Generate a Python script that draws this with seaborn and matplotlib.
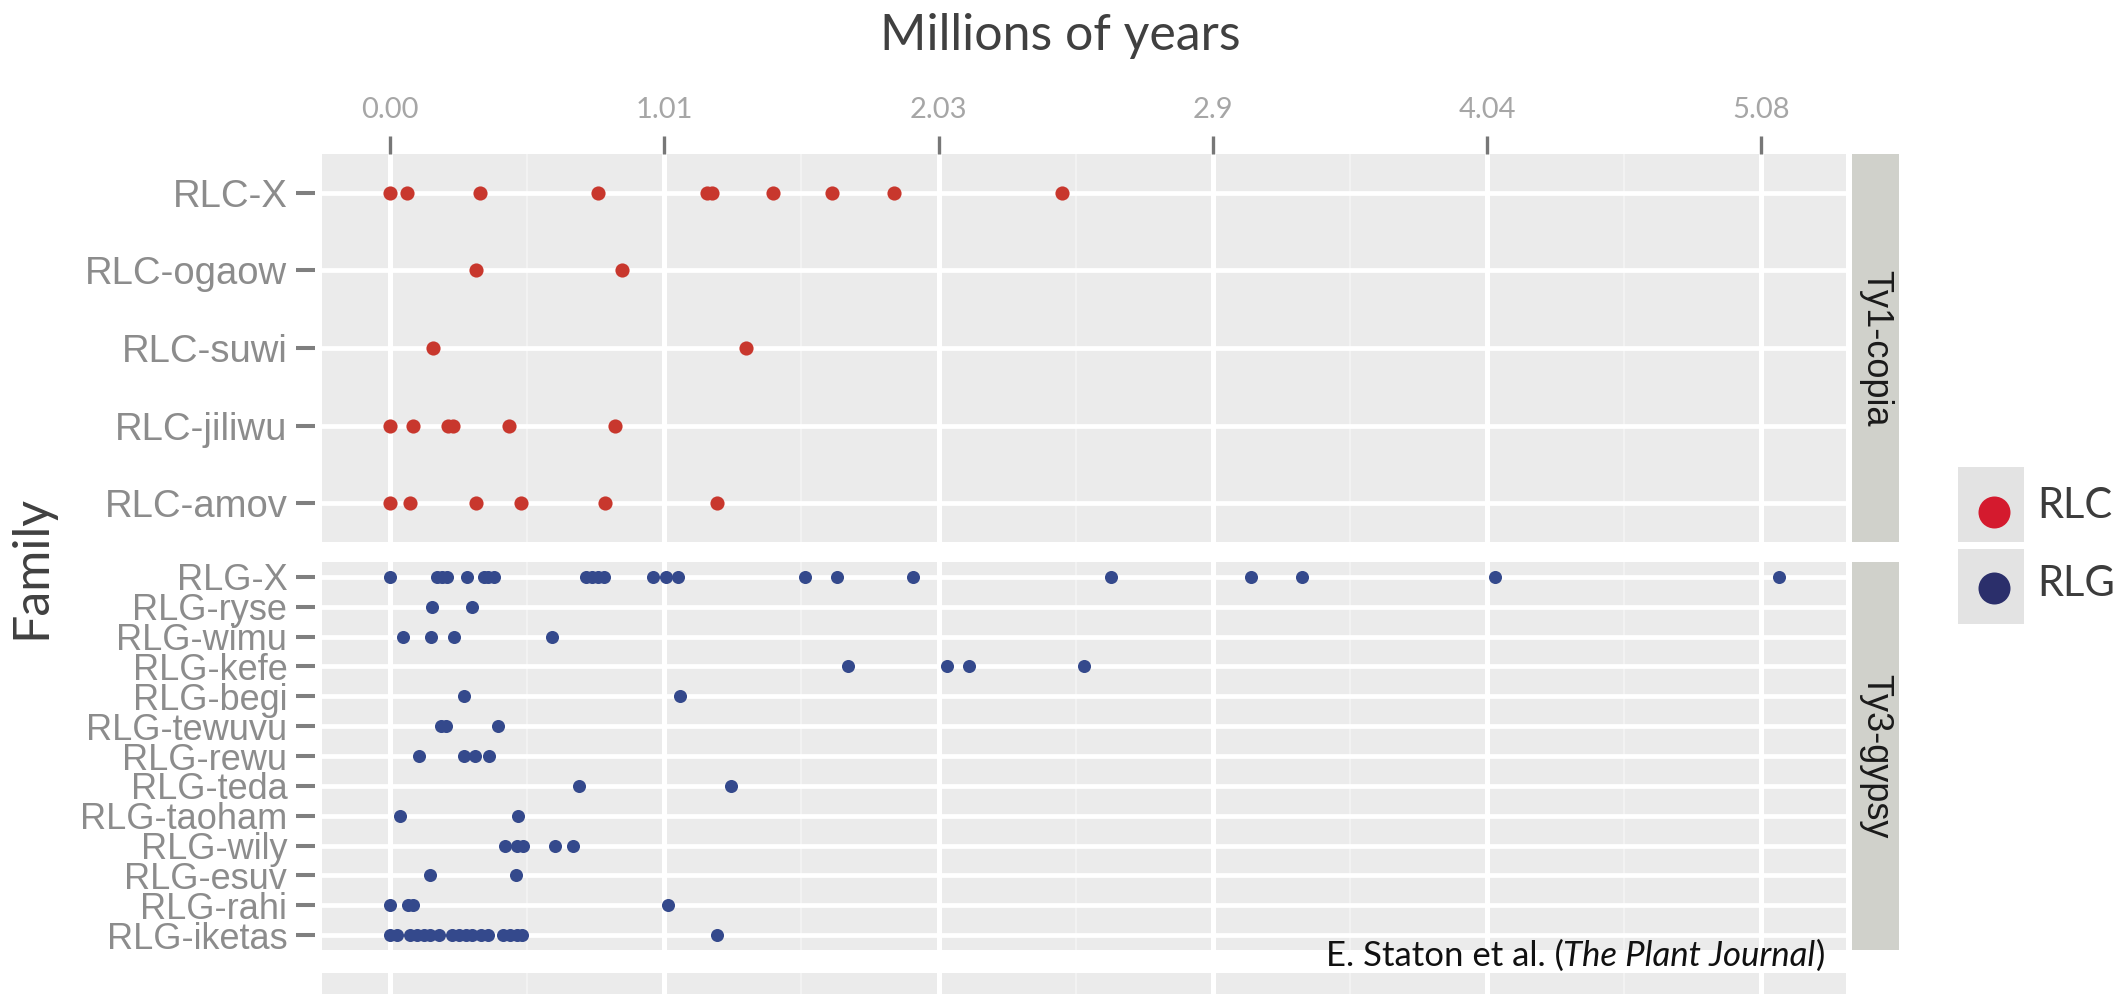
import matplotlib
matplotlib.use("Agg")
import matplotlib.pyplot as plt
from matplotlib.text import Annotation
from matplotlib.ticker import FixedLocator, NullFormatter
import pandas as pd
import seaborn as sns

# ---- insertion ages (millions of years) per LTR family ----
rlc_x = [0.00, 0.062, 0.334, 0.768, 1.172, 1.193, 1.416, 1.636, 1.867, 2.486]
rlc_ogaow = [0.319, 0.859]
rlc_suwi = [0.159, 1.319]
rlc_jiliwu = [0.00, 0.085, 0.215, 0.233, 0.441, 0.833]
rlc_amov = [0.00, 0.074, 0.319, 0.485, 0.796, 1.209]

rlg_x = [0.00, 0.173, 0.191, 0.210, 0.284, 0.346, 0.364, 0.383, 0.726, 0.747,
         0.769, 0.790, 0.975, 1.022, 1.064, 1.537, 1.654, 1.937, 2.670, 3.185,
         3.374, 4.089, 5.141]
rlg_ryse = [0.157, 0.304]
rlg_wimu = [0.049, 0.151, 0.238, 0.601]
rlg_kefe = [1.695, 2.063, 2.144, 2.570]
rlg_begi = [0.274, 1.073]
rlg_tewuvu = [0.190, 0.208, 0.401]
rlg_rewu = [0.106, 0.274, 0.315, 0.365]
rlg_teda = [0.698, 1.261]
rlg_taoham = [0.036, 0.475]
rlg_wily = [0.424, 0.469, 0.491, 0.612, 0.678]
rlg_esuv = [0.146, 0.466]
rlg_rahi = [0.00, 0.068, 0.084, 1.028]
rlg_iketas = [0.00, 0.026, 0.074, 0.100, 0.126, 0.148, 0.181, 0.230, 0.256,
              0.281, 0.304, 0.337, 0.363, 0.419, 0.444, 0.470, 0.489, 1.210]

copia_families = ["RLC-X", "RLC-ogaow", "RLC-suwi", "RLC-jiliwu", "RLC-amov"]
copia_ages = [rlc_x, rlc_ogaow, rlc_suwi, rlc_jiliwu, rlc_amov]
gypsy_families = ["RLG-X", "RLG-ryse", "RLG-wimu", "RLG-kefe", "RLG-begi",
                  "RLG-tewuvu", "RLG-rewu", "RLG-teda", "RLG-taoham",
                  "RLG-wily", "RLG-esuv", "RLG-rahi", "RLG-iketas"]
gypsy_ages = [rlg_x, rlg_ryse, rlg_wimu, rlg_kefe, rlg_begi, rlg_tewuvu,
              rlg_rewu, rlg_teda, rlg_taoham, rlg_wily, rlg_esuv, rlg_rahi,
              rlg_iketas]

tick_labels = ["0.00", "1.01", "2.03", "2.9", "4.04", "5.08"]
tick_step = 1.015
strip_labels = ["Ty1-copia", "Ty3-gypsy"]
legend_labels = ["RLC", "RLG"]


def long_table(families, ages):
    rows = [(fam, a) for fam, vals in zip(families, ages) for a in vals]
    return pd.DataFrame(rows, columns=["family", "age"])


df_copia = long_table(copia_families, copia_ages)
df_gypsy = long_table(gypsy_families, gypsy_ages)

# ---- figure layout in pixels ----
W, H = 2115, 994
fig = plt.figure(figsize=(W / 100, H / 100), dpi=100)
fig.patch.set_facecolor("white")


def rect(x0, y0, x1, y1):
    return [x0 / W, 1 - y1 / H, (x1 - x0) / W, (y1 - y0) / H]


PANEL = "#EBEBEB"
STRIP = "#D0D1CB"
POINT_RED = "#C8372D"
POINT_BLUE = "#34498C"
KEY_RED = "#D41A2E"
KEY_BLUE = "#2B2F6B"

major = [i * tick_step for i in range(len(tick_labels))]
minor = [(i + 0.5) * tick_step for i in range(len(tick_labels) - 1)]
xlim = (-0.252, 5.389)

ax_top = fig.add_axes(rect(322, 154, 1846, 542))
ax_bot = fig.add_axes(rect(322, 562, 1846, 950))
ax_next = fig.add_axes(rect(322, 973, 1846, 1120))

sns.stripplot(data=df_copia, x="age", y="family", order=copia_families,
              jitter=False, color=POINT_RED, size=10.2, linewidth=0, ax=ax_top)
sns.stripplot(data=df_gypsy, x="age", y="family", order=gypsy_families,
              jitter=False, color=POINT_BLUE, size=9.4, linewidth=0, ax=ax_bot)

for ax in (ax_top, ax_bot, ax_next):
    ax.set_facecolor(PANEL)
    ax.set_xlim(*xlim)
    ax.set_axisbelow(True)
    for sp in ax.spines.values():
        sp.set_visible(False)
    ax.xaxis.set_major_locator(FixedLocator(major))
    ax.xaxis.set_minor_locator(FixedLocator(minor))
    ax.xaxis.set_minor_formatter(NullFormatter())
    ax.grid(True, which="major", axis="x", color="white", lw=3.6)
    ax.grid(True, which="minor", axis="x", color="#F3F3F3", lw=1.4)
    ax.set_xlabel("")
    ax.set_ylabel("")

for ax, lsize in ((ax_top, 27.5), (ax_bot, 26)):
    ax.yaxis.grid(True, which="major", color="white", lw=3.4)
    # the y ticks sit a few pixels clear of the panel edge
    ax.spines["left"].set_position(("outward", 5))
    ax.tick_params(axis="y", which="major", length=14, width=2.9,
                   color="#7F7F7F", pad=6, labelsize=lsize,
                   labelcolor="#8C8C8C", labelfontfamily="Liberation Sans")

ax_top.tick_params(axis="x", which="major", top=True, bottom=False,
                   labeltop=True, labelbottom=False, length=13, width=2.4,
                   color="#777777", pad=9, labelsize=21, labelcolor="#A6A6A6",
                   labelfontfamily="Lato")
ax_top.tick_params(axis="x", which="minor", length=0)
ax_top.set_xticklabels(tick_labels)

for ax in (ax_bot, ax_next):
    ax.tick_params(axis="x", which="both", length=0, labelbottom=False,
                   labeltop=False)
ax_next.set_yticks([])

# facet strips
for (y0, y1), label in zip([(154, 542), (562, 950)], strip_labels):
    s = fig.add_axes(rect(1852, y0, 1899, y1))
    s.set_facecolor(STRIP)
    s.set_xticks([])
    s.set_yticks([])
    for sp in s.spines.values():
        sp.set_visible(False)
    s.text(0.5, 0.5, label, rotation=-90, ha="center", va="center",
           fontsize=26, color="#1A1A1A", family="Liberation Sans",
           transform=s.transAxes)

# axis titles
fig.text(1060 / W, 1 - 50 / H, "Millions of years", ha="center",
         va="baseline", fontsize=36, family="Lato", color="#404040")
fig.text(45 / W, 1 - 567 / H, "Family", rotation=90, rotation_mode="anchor",
         ha="center", va="baseline", fontsize=36, family="Lato",
         color="#404040")

# legend keys
for (y0, y1), color, label, cy, base in zip(
        [(467, 542), (549, 624)], [KEY_RED, KEY_BLUE], legend_labels,
        [0.40, 0.48], [518, 596]):
    k = fig.add_axes(rect(1958, y0, 2024, y1))
    k.set_facecolor("#E3E3E3")
    k.set_xlim(0, 1)
    k.set_ylim(0, 1)
    k.scatter([0.545], [cy], s=(32 / 1.389) ** 2, color=color, lw=0)
    k.set_xticks([])
    k.set_yticks([])
    for sp in k.spines.values():
        sp.set_visible(False)
    fig.text(2037 / W, 1 - base / H, label, ha="left", va="baseline",
             fontsize=30, family="Lato", color="#3C3C3C")

# source credit, with the journal name in italics
fs = 25
t_close = fig.text(1825 / W, 1 - 966 / H, ")", ha="right", va="baseline",
                   fontsize=fs, family="Lato", color="#111111")
t_journal = Annotation("The Plant Journal", xy=(0, 0), xycoords=t_close,
                       ha="right", va="bottom", fontsize=fs, family="Lato",
                       style="italic", color="#111111")
fig.add_artist(t_journal)
t_auth = Annotation("E. Staton et al. (", xy=(0, 0), xycoords=t_journal,
                    ha="right", va="bottom", fontsize=fs, family="Lato",
                    color="#111111")
fig.add_artist(t_auth)

fig.savefig("out.png", dpi=100)
